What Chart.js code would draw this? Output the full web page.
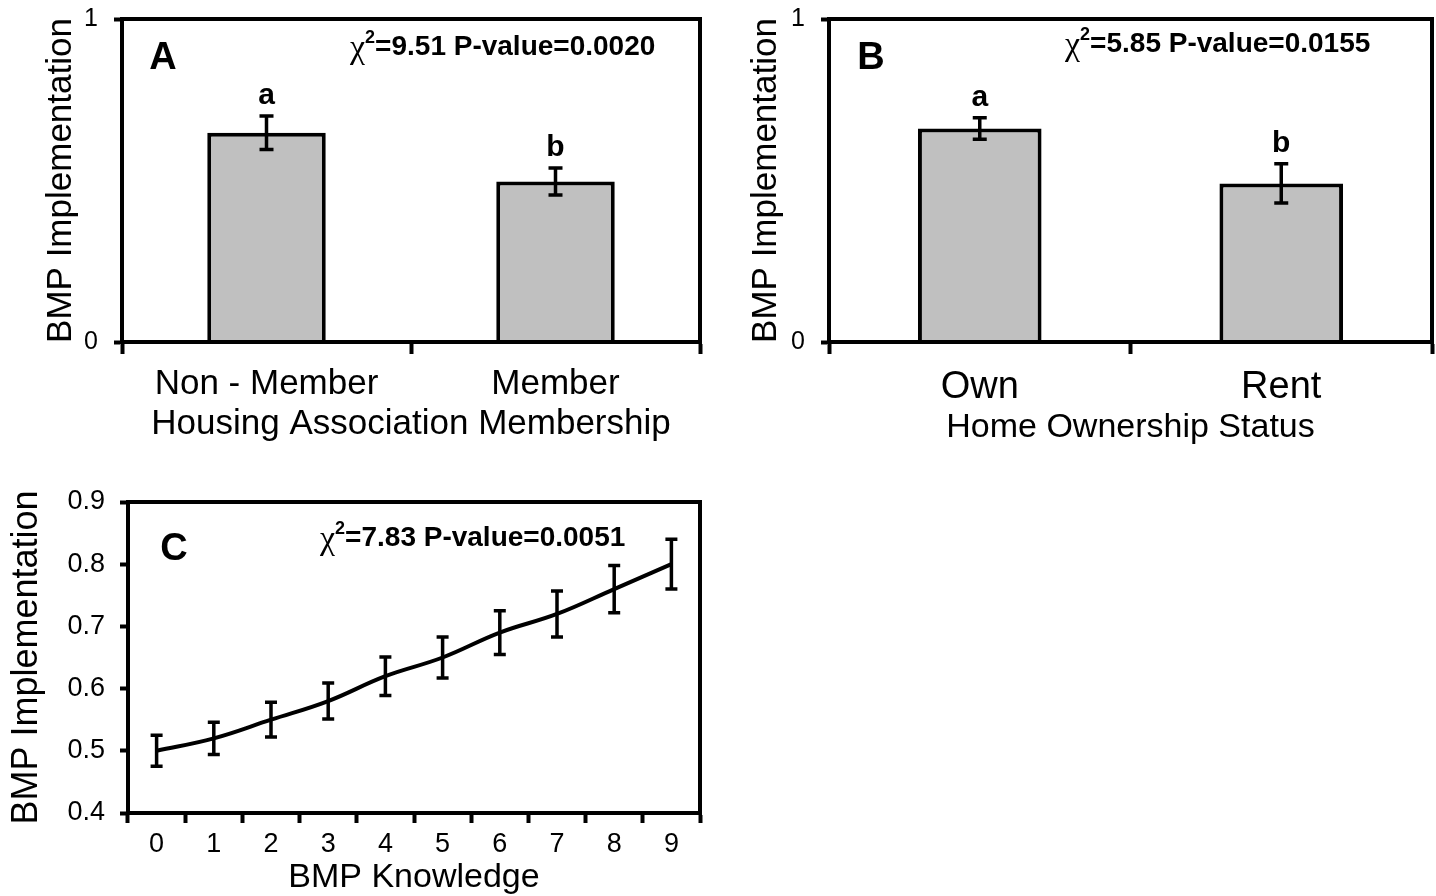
<!DOCTYPE html>
<html lang="en">
<head>
<meta charset="utf-8">
<title>BMP Implementation</title>
<script src="https://cdn.jsdelivr.net/npm/chart.js@4.4.1/dist/chart.umd.min.js"></script>
<style>
    html, body { margin: 0; padding: 0; background: #fff; width: 1436px; height: 896px; overflow: hidden; }
    .panel { position: absolute; }
    #panelA { left: 0; top: 0; width: 720px; height: 450px; }
    #panelB { left: 710px; top: 0; width: 726px; height: 450px; }
    #panelC { left: 0; top: 480px; width: 720px; height: 416px; }
</style>
</head>
<body>
<div class="panel" id="panelA"><canvas id="graficoA"></canvas></div>
<div class="panel" id="panelB"><canvas id="graficoB"></canvas></div>
<div class="panel" id="panelC"><canvas id="graficoC"></canvas></div>
<script>
// Datos del panel A (membresía en asociación de vecinos)
var categoriasA = ['Non - Member', 'Member'];
var valoresA = [0.648, 0.497];
var erroresA = [0.052, 0.042];
var letrasA = ['a', 'b'];

// Datos del panel B (tenencia de la vivienda)
var categoriasB = ['Own', 'Rent'];
var valoresB = [0.661, 0.491];
var erroresB = [0.033, 0.061];
var letrasB = ['a', 'b'];

// Datos del panel C (conocimiento de BMP)
var categoriasC = ['0', '1', '2', '3', '4', '5', '6', '7', '8', '9'];
var valoresC = [0.50, 0.52, 0.55, 0.58, 0.62, 0.65, 0.69, 0.72, 0.76, 0.80];
var erroresC = [0.025, 0.026, 0.028, 0.029, 0.031, 0.033, 0.035, 0.037, 0.038, 0.040];

// Marcas del eje Y
var ticksBarras = [0, 1];
var ticksLinea = [0.4, 0.5, 0.6, 0.7, 0.8, 0.9];

// Estadísticos de cada panel
var chiA = '9.51', pA = '0.0020';
var chiB = '5.85', pB = '0.0155';
var chiC = '7.83', pC = '0.0051';

var FUENTE = "'Liberation Sans', Arial, sans-serif";
Chart.defaults.font.family = FUENTE;
Chart.defaults.color = '#000';

// Dibuja el recuadro completo alrededor del área del gráfico
var pluginMarco = {
    id: 'marco',
    afterDraw: function (grafico) {
        var a = grafico.chartArea;
        var ctx = grafico.ctx;
        ctx.save();
        ctx.strokeStyle = '#000';
        ctx.lineWidth = 4;
        ctx.strokeRect(a.left, a.top, a.right - a.left, a.bottom - a.top);
        ctx.restore();
    }
};

// Dibuja las barras de error con las escalas del gráfico
var pluginErrores = {
    id: 'barrasError',
    afterDatasetsDraw: function (grafico, args, opciones) {
        var ctx = grafico.ctx;
        var escalaY = grafico.scales.y;
        grafico.data.datasets.forEach(function (ds, d) {
            if (!ds.errores) return;
            var meta = grafico.getDatasetMeta(d);
            ctx.save();
            ctx.strokeStyle = '#000';
            ctx.lineWidth = 3.5;
            ds.data.forEach(function (v, i) {
                var x = meta.data[i].x;
                var arriba = escalaY.getPixelForValue(v + ds.errores[i]);
                var abajo = escalaY.getPixelForValue(v - ds.errores[i]);
                var m = opciones.tapa;
                ctx.beginPath();
                ctx.moveTo(x, arriba); ctx.lineTo(x, abajo);
                ctx.moveTo(x - m, arriba); ctx.lineTo(x + m, arriba);
                ctx.moveTo(x - m, abajo); ctx.lineTo(x + m, abajo);
                ctx.stroke();
            });
            ctx.restore();
        });
    }
};

// Letra del panel, chi cuadrado y letras de significancia
var pluginAnotaciones = {
    id: 'anotaciones',
    afterDraw: function (grafico, args, op) {
        var ctx = grafico.ctx;
        var a = grafico.chartArea;
        ctx.save();
        ctx.fillStyle = '#000';
        ctx.textBaseline = 'middle';

        // letra del panel
        ctx.textAlign = 'center';
        ctx.font = 'bold 38px ' + FUENTE;
        ctx.fillText(op.panel, a.left + op.panelX, a.top + op.panelY);

        // texto del estadístico
        ctx.textAlign = 'left';
        var x = a.left + op.textoX;
        var y = a.top + op.textoY;
        ctx.font = "34px 'Liberation Serif', serif";
        ctx.fillText('\u03C7', x, y + 2);
        x += ctx.measureText('\u03C7').width;
        ctx.font = 'bold 18px ' + FUENTE;
        ctx.fillText('2', x, y - 9);
        x += ctx.measureText('2').width;
        ctx.font = 'bold 28px ' + FUENTE;
        ctx.fillText('=' + op.chi + ' P-value=' + op.p, x, y);

        // letras sobre las barras
        var ds = grafico.data.datasets[0];
        if (ds.letras) {
            var meta = grafico.getDatasetMeta(0);
            ctx.textAlign = 'center';
            ctx.textBaseline = 'alphabetic';
            ctx.font = 'bold 30px ' + FUENTE;
            ds.letras.forEach(function (l, i) {
                var yTop = grafico.scales.y.getPixelForValue(ds.data[i] + ds.errores[i]);
                ctx.fillText(l, meta.data[i].x, yTop - 12);
            });
        }
        ctx.restore();
    }
};

// Configuración del eje Y
function ejeY(min, max, marcas, ancho, tamTick, tamTitulo, padTitulo, tickLen, padTick) {
    return {
        min: min,
        max: max,
        afterBuildTicks: function (escala) {
            escala.ticks = marcas.map(function (v) { return { value: v }; });
        },
        afterFit: function (escala) {
            // ancho fijo y sin reserva extra arriba/abajo para las etiquetas
            escala.width = ancho;
            escala.paddingTop = 0;
            escala.paddingBottom = 0;
        },
        border: { display: true, color: '#000', width: 4 },
        grid: { drawOnChartArea: false, tickLength: tickLen, tickWidth: 4, tickColor: '#000' },
        ticks: {
            color: '#000', font: { size: tamTick }, padding: padTick,
            callback: function (v) { return marcas[0] === 0 ? String(v) : Number(v).toFixed(1); }
        },
        title: {
            display: true, text: 'BMP Implementation', color: '#000',
            font: { size: tamTitulo }, padding: { top: padTitulo, bottom: 0 }
        }
    };
}

// Configuración del eje X
function ejeX(titulo, alto, tamTick, padTick, tickLen, tamTitulo, padTitulo) {
    return {
        offset: true,
        afterFit: function (escala) { escala.height = alto; },
        border: { display: true, color: '#000', width: 4 },
        grid: { offset: true, drawOnChartArea: false, tickLength: tickLen, tickWidth: 4, tickColor: '#000' },
        ticks: { color: '#000', font: { size: tamTick }, padding: padTick, maxRotation: 0, autoSkip: false },
        title: {
            display: true, text: titulo, color: '#000',
            font: { size: tamTitulo, lineHeight: 1 }, padding: { top: 0, bottom: padTitulo }
        }
    };
}

// Crea un gráfico de barras con error
function graficoBarras(id, categorias, valores, errores, letras, ejeXconf, ejeYconf, anot, padding) {
    return new Chart(document.getElementById(id), {
        type: 'bar',
        data: {
            labels: categorias,
            datasets: [{
                data: valores,
                errores: errores,
                letras: letras,
                backgroundColor: '#c0c0c0',
                borderColor: '#000',
                borderWidth: 4,
                categoryPercentage: 1,
                barPercentage: 0.41
            }]
        },
        options: {
            responsive: true,
            maintainAspectRatio: false,
            animation: false,
            layout: { padding: padding },
            scales: { x: ejeXconf, y: ejeYconf },
            plugins: {
                legend: { display: false },
                tooltip: { enabled: false },
                barrasError: { tapa: 7 },
                anotaciones: anot
            }
        },
        plugins: [pluginErrores, pluginMarco, pluginAnotaciones]
    });
}

graficoBarras('graficoA', categoriasA, valoresA, erroresA, letrasA,
    ejeX('Housing Association Membership', 108, 35, 9, 12, 35, 8),
    ejeY(0, 1, ticksBarras, 122, 25, 35, 40, 8, 16),
    { panel: 'A', panelX: 41, panelY: 40, textoX: 228, textoY: 28, chi: chiA, p: pA },
    { top: 19, right: 20, left: 0, bottom: 0 });

graficoBarras('graficoB', categoriasB, valoresB, erroresB, letrasB,
    ejeX('Home Ownership Status', 108, 38, 11, 12, 34, 5),
    ejeY(0, 1, ticksBarras, 119, 25, 35, 35, 8, 16),
    { panel: 'B', panelX: 42, panelY: 40, textoX: 236, textoY: 25, chi: chiB, p: pB },
    { top: 19, right: 4, left: 0, bottom: 0 });

// Gráfico de línea del panel C
new Chart(document.getElementById('graficoC'), {
    type: 'line',
    data: {
        labels: categoriasC,
        datasets: [{
            data: valoresC,
            errores: erroresC,
            borderColor: '#000',
            borderWidth: 4,
            tension: 0.4,
            pointRadius: 0,
            fill: false
        }]
    },
    options: {
        responsive: true,
        maintainAspectRatio: false,
        animation: false,
        layout: { padding: { top: 22, right: 20, left: 0, bottom: 0 } },
        scales: {
            x: ejeX('BMP Knowledge', 83, 27, 5, 10, 34, 1),
            y: ejeY(0.4, 0.9, ticksLinea, 128, 27, 36, 5, 8, 15)
        },
        plugins: {
            legend: { display: false },
            tooltip: { enabled: false },
            barrasError: { tapa: 6 },
            anotaciones: { panel: 'C', panelX: 46, panelY: 48, textoX: 192, textoY: 36, chi: chiC, p: pC }
        }
    },
    plugins: [pluginErrores, pluginMarco, pluginAnotaciones]
});
</script>
</body>
</html>
